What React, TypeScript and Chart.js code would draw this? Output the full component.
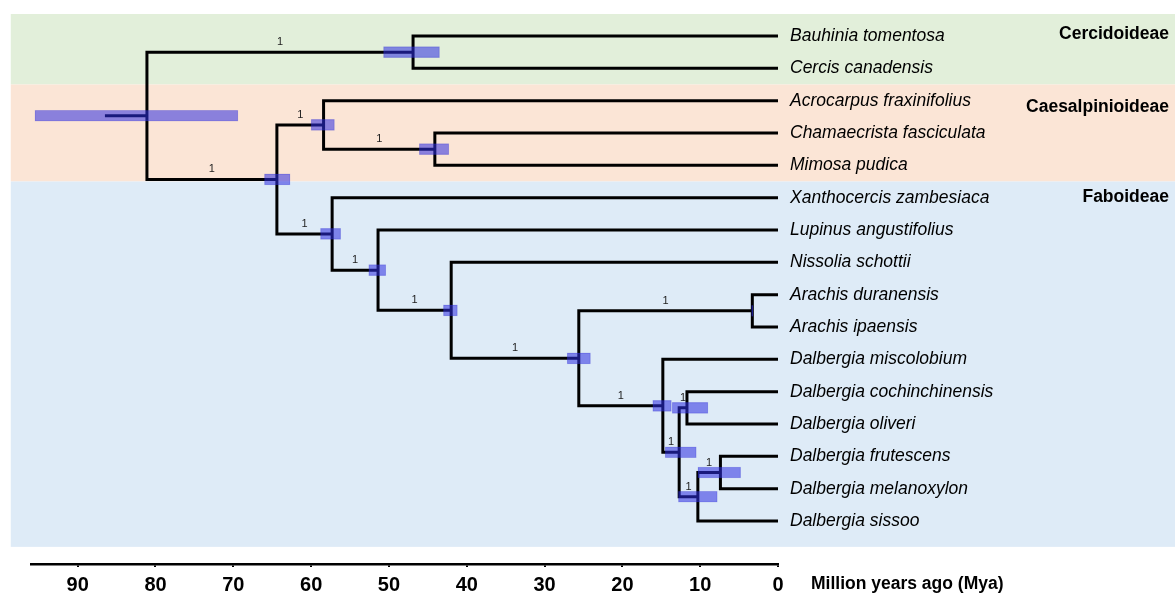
import React, { useEffect, useRef } from "react";
import { Chart, registerables } from "chart.js";

Chart.register(...registerables);

const FONT = '"Liberation Sans", Arial, Helvetica, sans-serif';

// Tip taxa, top to bottom (row index = position in this list)
const taxa = [
  "Bauhinia tomentosa",
  "Cercis canadensis",
  "Acrocarpus fraxinifolius",
  "Chamaecrista fasciculata",
  "Mimosa pudica",
  "Xanthocercis zambesiaca",
  "Lupinus angustifolius",
  "Nissolia schottii",
  "Arachis duranensis",
  "Arachis ipaensis",
  "Dalbergia miscolobium",
  "Dalbergia cochinchinensis",
  "Dalbergia oliveri",
  "Dalbergia frutescens",
  "Dalbergia melanoxylon",
  "Dalbergia sissoo",
];

// Internal nodes: children are "t<i>" (taxon) or "n<i>" (another node)
const nodeChildren: [string, string][] = [
  ["n1", "n2"],
  ["t0", "t1"],
  ["n3", "n5"],
  ["t2", "n4"],
  ["t3", "t4"],
  ["t5", "n6"],
  ["t6", "n7"],
  ["t7", "n8"],
  ["n9", "n10"],
  ["t8", "t9"],
  ["t10", "n11"],
  ["n12", "n13"],
  ["t11", "t12"],
  ["n14", "t15"],
  ["t13", "t14"],
];

// Divergence time of each node (Mya)
const nodeAges = [81.1, 46.9, 64.4, 58.4, 44.1, 57.3, 51.4, 42.0, 25.6, 3.3, 14.8, 12.7, 11.7, 10.3, 7.4];

// 95% HPD interval of each node age (Mya)
const hpdLower = [69.4, 43.5, 62.7, 57.0, 42.3, 56.2, 50.4, 41.2, 24.1, 3.2, 13.7, 10.5, 9.0, 7.8, 4.8];
const hpdUpper = [95.5, 50.7, 66.0, 60.0, 46.1, 58.8, 52.6, 43.0, 27.1, 3.4, 16.1, 14.5, 13.6, 12.8, 10.3];

// Posterior support on the branch leading to each node (root has none)
const posterior: (number | null)[] = [null, 1, 1, 1, 1, 1, 1, 1, 1, 1, 1, 1, 1, 1, 1];

// Start of the root stem (Mya)
const rootStemAge = 86.5;

// Subfamily shading, in tip-row units
const subfamilies = ["Cercidoideae", "Caesalpinioideae", "Faboideae"];
const subfamilyRowStart = [-0.68, 1.5, 4.5];
const subfamilyRowEnd = [1.5, 4.5, 15.8];
const subfamilyLabelRow = [-0.05, 2.2, 5];
const subfamilyColors = ["#E2EFDA", "#FBE5D6", "#DEEBF7"];
const shadingLeftAge = 98.6;

// Time axis
const axisMaxAge = 96;
const axisStep = 10;
const axisTitle = "Million years ago (Mya)";

const isTaxon = (ref: string) => ref[0] === "t";
const refIndex = (ref: string) => parseInt(ref.slice(1), 10);

function rowOf(ref: string): number {
  if (isTaxon(ref)) return refIndex(ref);
  const [a, b] = nodeChildren[refIndex(ref)];
  return (rowOf(a) + rowOf(b)) / 2;
}

function ageOf(ref: string): number {
  return isTaxon(ref) ? 0 : nodeAges[refIndex(ref)];
}

// parent node of each internal node
const nodeParent: number[] = nodeAges.map(() => -1);
nodeChildren.forEach(([a, b], i) => {
  [a, b].forEach((c) => {
    if (!isTaxon(c)) nodeParent[refIndex(c)] = i;
  });
});

export default function App() {
  const canvasRef = useRef<HTMLCanvasElement | null>(null);

  useEffect(() => {
    const canvas = canvasRef.current;
    if (!canvas) return;

    // Branches: one elbow path per internal node
    const branchSets: any[] = nodeChildren.map(([a, b], i) => {
      const ya = rowOf(a);
      const yb = rowOf(b);
      return {
        type: "line",
        data: [
          { x: ageOf(a), y: ya },
          { x: nodeAges[i], y: ya },
          { x: nodeAges[i], y: yb },
          { x: ageOf(b), y: yb },
        ],
        borderColor: "#000000",
        borderWidth: 3,
        borderJoinStyle: "miter",
        borderCapStyle: "butt",
        pointRadius: 0,
        tension: 0,
        fill: false,
        order: 2,
      };
    });

    const rootRow = rowOf("n0");
    branchSets.push({
      type: "line",
      data: [
        { x: rootStemAge, y: rootRow },
        { x: nodeAges[0], y: rootRow },
      ],
      borderColor: "#000000",
      borderWidth: 3,
      borderCapStyle: "butt",
      pointRadius: 0,
      tension: 0,
      fill: false,
      order: 2,
    });

    // HPD intervals as floating horizontal bars
    const hpdSet: any = {
      type: "bar",
      indexAxis: "y",
      data: nodeAges.map((_, i) => ({ x: [hpdLower[i], hpdUpper[i]], y: rowOf("n" + i) })),
      backgroundColor: "rgba(45, 45, 225, 0.55)",
      borderColor: "rgba(45, 45, 200, 0.25)",
      borderWidth: 0.5,
      borderSkipped: false,
      barThickness: 11,
      grouped: false,
      order: 1,
    };

    const shadingPlugin = {
      id: "subfamilyShading",
      beforeDatasetsDraw(chart: any) {
        const { ctx, scales } = chart;
        const xs = scales.x;
        const ys = scales.y;
        const left = xs.getPixelForValue(shadingLeftAge);
        ctx.save();
        subfamilies.forEach((_, i) => {
          const top = ys.getPixelForValue(subfamilyRowStart[i]);
          const bottom = ys.getPixelForValue(subfamilyRowEnd[i]);
          ctx.fillStyle = subfamilyColors[i];
          ctx.fillRect(left, top, chart.width - left, bottom - top);
        });
        ctx.restore();
      },
    };

    const labelPlugin = {
      id: "treeLabels",
      afterDatasetsDraw(chart: any) {
        const { ctx, scales } = chart;
        const xs = scales.x;
        const ys = scales.y;
        ctx.save();

        // tip names
        ctx.fillStyle = "#000";
        ctx.font = `italic 17.5px ${FONT}`;
        ctx.textAlign = "left";
        ctx.textBaseline = "middle";
        const tipX = xs.getPixelForValue(0) + 12;
        taxa.forEach((name, i) => {
          ctx.fillText(name, tipX, ys.getPixelForValue(i));
        });

        // subfamily names
        ctx.font = `bold 17.5px ${FONT}`;
        ctx.textAlign = "right";
        subfamilies.forEach((name, i) => {
          ctx.fillText(name, chart.width - 6, ys.getPixelForValue(subfamilyLabelRow[i]));
        });

        // posterior support above branches
        ctx.font = `11px ${FONT}`;
        ctx.fillStyle = "#222";
        ctx.textAlign = "center";
        ctx.textBaseline = "middle";
        nodeAges.forEach((age, i) => {
          const p = nodeParent[i];
          const val = posterior[i];
          if (p < 0 || val === null) return;
          const mid = (age + nodeAges[p]) / 2;
          ctx.fillText(String(val), xs.getPixelForValue(mid), ys.getPixelForValue(rowOf("n" + i)) - 10);
        });

        // axis title to the right of the time axis
        ctx.fillStyle = "#000";
        ctx.font = `bold 17.5px ${FONT}`;
        ctx.textAlign = "left";
        ctx.fillText(axisTitle, xs.right + 33, xs.top + 20);

        ctx.restore();
      },
    };

    const chart = new Chart(canvas, {
      type: "line",
      data: { datasets: [hpdSet, ...branchSets] },
      options: {
        animation: false,
        responsive: false,
        maintainAspectRatio: false,
        devicePixelRatio: 1,
        layout: { padding: { left: 31, right: 397, top: 14, bottom: 0 } },
        plugins: { legend: { display: false }, tooltip: { enabled: false } },
        events: [],
        scales: {
          x: {
            type: "linear",
            min: 0,
            max: axisMaxAge,
            reverse: true,
            offset: false,
            afterFit: (scale: any) => {
              scale.height = 31;
            },
            border: { display: true, color: "#000", width: 2.5 },
            grid: {
              drawOnChartArea: false,
              drawTicks: true,
              tickLength: 3,
              color: "#000",
              lineWidth: 2,
            },
            ticks: {
              stepSize: axisStep,
              includeBounds: false,
              autoSkip: false,
              maxRotation: 0,
              color: "#000",
              padding: 6,
              font: { family: FONT, size: 20, weight: "bold" },
            },
          },
          y: {
            type: "linear",
            min: -0.68,
            max: 16.33,
            reverse: true,
            offset: false,
            display: false,
          },
        },
      },
      plugins: [shadingPlugin, labelPlugin],
    } as any);

    return () => {
      chart.destroy();
    };
  }, []);

  return (
    <div style={{ position: "fixed", left: 0, top: 0, width: 1175, height: 595, background: "#fff" }}>
      <canvas ref={canvasRef} width={1175} height={595} style={{ display: "block" }} />
    </div>
  );
}
